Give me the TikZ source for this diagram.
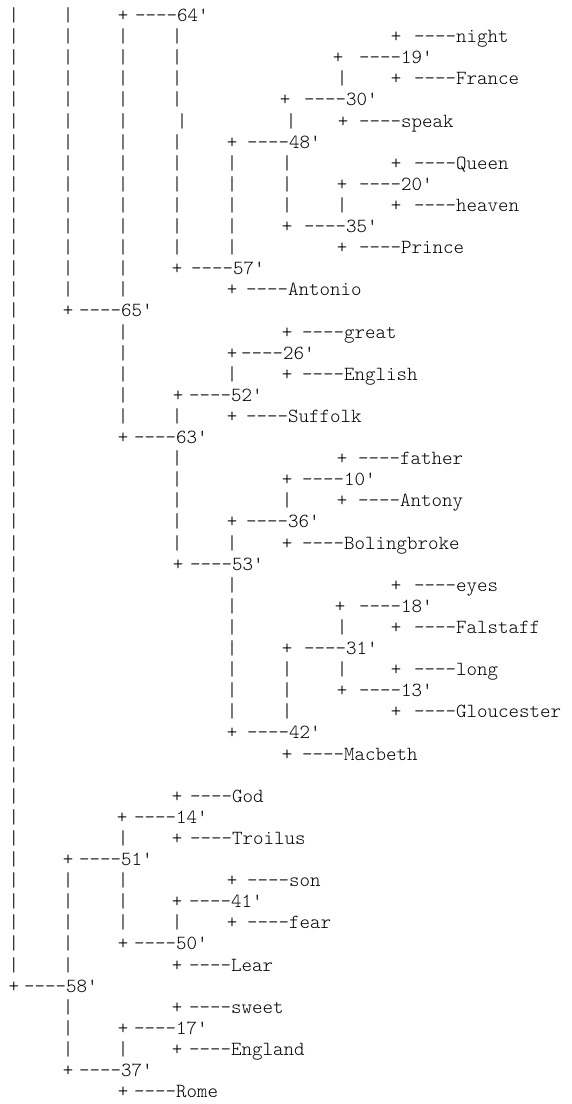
\documentclass[tikz,border=0pt]{standalone}
\usepackage{fontspec}
\setmonofont{Latin Modern Mono Light}
\begin{document}
\begin{tikzpicture}[x=1pt,y=-1pt,
  every node/.style={inner sep=0pt,outer sep=0pt,text=black,
    font=\ttfamily\fontsize{20}{22}\selectfont},
  glyph/.style={anchor=base},
  lab/.style={anchor=base west}]
\useasboundingbox (0,0) rectangle (571,1104);
% vertical bars, one glyph per row
\foreach \r in {0,...,45} \node[glyph] (bA\r) at (14,{21.5+21.1*\r}) {|};
\foreach \r in {0,...,13,41,42,43,44,45,47,48,49} \node[glyph] (bB\r) at (68,{21.5+21.1*\r}) {|};
\foreach \r in {1,...,13,15,16,17,18,19,39,41,42,43,49} \node[glyph] (bC\r) at (123,{21.5+21.1*\r}) {|};
\foreach \r in {1,2,3,4,6,7,8,9,10,11,19,21,22,23,24,25,43} \node[glyph] (bD\r) at (177,{21.5+21.1*\r}) {|};
\node[glyph] (bD5) at (182,{21.5+21.1*5}) {|};
\foreach \r in {7,8,9,10,11,17,25,27,28,29,30,31,32,33} \node[glyph] (bE\r) at (232,{21.5+21.1*\r}) {|};
\foreach \r in {7,8,9,23,31,32,33} \node[glyph] (bF\r) at (287,{21.5+21.1*\r}) {|};
\node[glyph] (bF5) at (291,{21.5+21.1*5}) {|};
\foreach \r in {3,9,29,31} \node[glyph] (bG\r) at (342,{21.5+21.1*\r}) {|};
% joints and labels
\foreach \r/\px/\lx/\t in {
  0/123/178/64', 1/396/457/night, 2/338/402/19', 3/396/457/France,
  4/285/347/30', 5/343/402/speak, 6/232/290/48', 7/396/457/Queen,
  8/342/402/20', 9/396/457/heaven, 10/287/347/35', 11/342/402/Prince,
  12/177/234/57', 13/232/289/Antonio, 14/68/122/65', 15/287/345/great,
  16/232/284/26', 17/287/345/English, 18/178/232/52', 19/232/289/Suffolk,
  20/123/177/63', 21/342/401/father, 22/287/345/10', 23/342/401/Antony,
  24/232/289/36', 25/287/345/Bolingbroke, 26/178/233/53', 27/396/457/eyes,
  28/340/402/18', 29/396/457/Falstaff, 30/287/347/31', 31/396/457/long,
  32/342/402/13', 33/396/457/Gloucester, 34/232/290/42', 35/287/345/Macbeth,
  37/177/233/God, 38/122/177/14', 39/177/233/Troilus, 40/68/122/51',
  41/232/290/son, 42/177/232/41', 43/232/290/fear, 44/123/177/50',
  45/177/232/Lear, 46/14/67/58', 47/177/232/sweet, 48/123/177/17',
  49/177/232/England, 50/68/122/37', 51/123/177/Rome}
{
  \node[glyph] (p\r) at (\px,{21.5+21.1*\r}) {+};
  \node[lab] (l\r) at ({\lx-43},{21.5+21.1*\r}) {----\t};
}
\end{tikzpicture}
\end{document}
